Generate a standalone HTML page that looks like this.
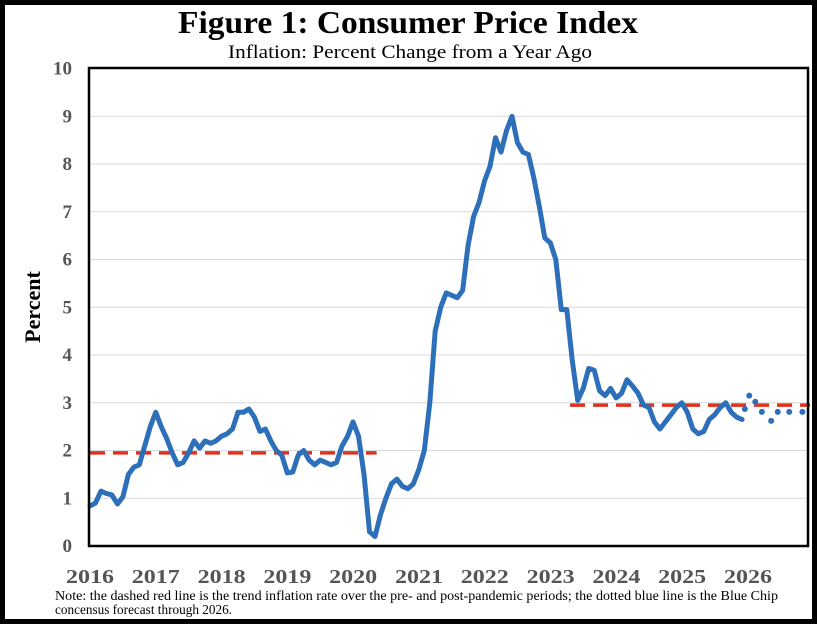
<!DOCTYPE html>
<html><head><meta charset="utf-8"><style>
html,body{margin:0;padding:0;background:#fff;}
svg{display:block;}
</style></head><body>
<svg id="chart" width="817" height="624" viewBox="0 0 817 624" xmlns="http://www.w3.org/2000/svg">
<rect x="2.5" y="2.5" width="812" height="619" fill="#fff" stroke="#000" stroke-width="5"/>
<text x="178" y="33" textLength="460" lengthAdjust="spacingAndGlyphs" font-family="Liberation Serif, serif" font-weight="bold" font-size="32" fill="#000">Figure 1: Consumer Price Index</text>
<text x="228" y="58" textLength="364" lengthAdjust="spacingAndGlyphs" font-family="Liberation Serif, serif" font-size="19" fill="#000">Inflation: Percent Change from a Year Ago</text>
<g id="grid"></g>
<g id="yticks"></g>
<g id="xticks"></g>
<g id="trend"></g>
<g id="series"></g>
<g id="forecast"></g>
<rect x="89" y="68" width="719" height="478" fill="none" stroke="#000" stroke-width="2.5"/>
<text transform="translate(40,307) rotate(-90)" text-anchor="middle" font-family="Liberation Serif, serif" font-weight="bold" font-size="22" fill="#000">Percent</text>
<text x="55" y="600" textLength="723" lengthAdjust="spacingAndGlyphs" font-family="Liberation Serif, serif" font-size="14" fill="#000">Note: the dashed red line is the trend inflation rate over the pre- and post-pandemic periods; the dotted blue line is the Blue Chip</text>
<text x="55" y="614" textLength="177" lengthAdjust="spacingAndGlyphs" font-family="Liberation Serif, serif" font-size="14" fill="#000">concensus forecast through 2026.</text>
</svg>
<script>
const yTicks = [0,1,2,3,4,5,6,7,8,9,10];
const xTickLabels = ['2016','2017','2018','2019','2020','2021','2022','2023','2024','2025','2026'];
const cpiValues = [0.84,0.9,1.15,1.1,1.07,0.88,1.03,1.5,1.65,1.7,2.1,2.5,
2.8,2.5,2.25,1.95,1.7,1.75,1.95,2.2,2.05,2.2,2.15,2.2,
2.3,2.35,2.45,2.8,2.8,2.87,2.7,2.4,2.45,2.2,2.0,1.9,
1.53,1.55,1.9,2.0,1.8,1.7,1.8,1.75,1.7,1.75,2.1,2.3,
2.6,2.3,1.5,0.3,0.2,0.65,1.0,1.3,1.4,1.25,1.2,1.3,
1.6,2.0,3.0,4.5,5.0,5.3,5.25,5.2,5.35,6.3,6.9,7.2,
7.65,7.95,8.55,8.25,8.7,9.0,8.45,8.25,8.2,7.7,7.1,6.45,
6.35,6.0,4.95,4.95,3.9,3.05,3.3,3.72,3.68,3.25,3.15,3.3,
3.1,3.2,3.48,3.35,3.2,2.95,2.9,2.6,2.45,2.6,2.75,2.9,
3.0,2.8,2.45,2.35,2.4,2.65,2.75,2.9,3.0,2.8,2.7,2.65];
const forecastMonths = [119.5,120.3,121.4,122.6,124.3,125.5,127.6,130.0];
const forecastValues = [2.87,3.15,3.02,2.81,2.62,2.81,2.81,2.81];
const trendStarts = [0,87.6];
const trendEnds = [52.3,131.4];
const trendValues = [1.95,2.95];

const NS='http://www.w3.org/2000/svg';
const X0=88, PX_PER_MONTH=5.48, Y0=546, PX_PER_UNIT=47.75;
function xScale(m){return X0+2+m*PX_PER_MONTH;}
function xYear(i){return 90+i*65.8;}
function yScale(v){return Y0-v*PX_PER_UNIT;}
function mk(tag,attrs,parent){const e=document.createElementNS(NS,tag);for(const k in attrs)e.setAttribute(k,attrs[k]);parent.appendChild(e);return e;}

const grid=document.getElementById('grid'), yt=document.getElementById('yticks');
yTicks.forEach(v=>{
  if(v>0&&v<10){const l=mk('line',{x1:89,x2:808,y1:yScale(v),y2:yScale(v),stroke:'#d9d9d9','stroke-width':1},grid);
  
  }
  const t=mk('text',{x:72,y:yScale(v)+6,'text-anchor':'end','font-family':'Liberation Serif, serif','font-weight':'bold','font-size':19,fill:'#555'},yt);
  t.textContent=v;
  
  
});
const xt=document.getElementById('xticks');
xTickLabels.forEach((s,i)=>{
  const t=mk('text',{x:xYear(i)-24,y:583,textLength:48,lengthAdjust:'spacingAndGlyphs','font-family':'Liberation Serif, serif','font-weight':'bold','font-size':20,fill:'#555'},xt);
  t.textContent=s;
  
  
});
const tr=document.getElementById('trend');
trendValues.forEach((v,i)=>{
  const l=mk('line',{x1:xScale(trendStarts[i]),x2:xScale(trendEnds[i]),y1:yScale(v),y2:yScale(v),stroke:'#e0301e','stroke-width':3.5,'stroke-dasharray':'15 8'},tr);
  
  
});
const pts=cpiValues.map((v,i)=>xScale(i).toFixed(1)+','+yScale(v).toFixed(1)).join(' ');
const pl=mk('polyline',{points:pts,fill:'none',stroke:'#2e6fba','stroke-width':5,'stroke-linejoin':'round','stroke-linecap':'round'},document.getElementById('series'));


const fg=document.getElementById('forecast');
forecastValues.forEach((v,i)=>{
  const c=mk('circle',{cx:xScale(forecastMonths[i]),cy:yScale(v),r:3,fill:'#2e6fba'},fg);
  
  
});
</script>
</body></html>
